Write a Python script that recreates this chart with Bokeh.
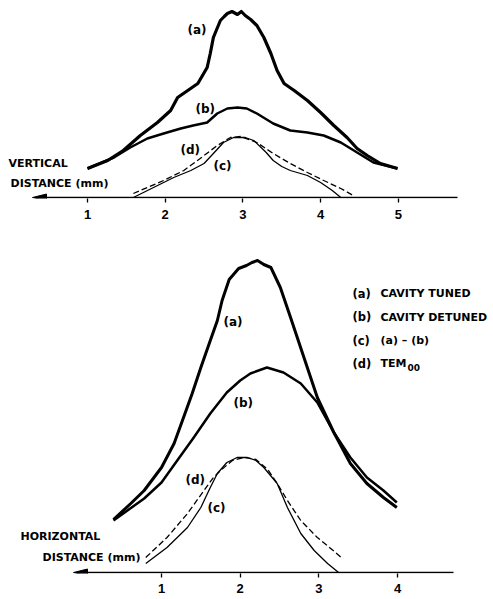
from bokeh.plotting import figure
from bokeh.layouts import column
from bokeh.models import FixedTicker
from bokeh.core.properties import value
from bokeh.embed import file_html
from bokeh.resources import INLINE

# ---------------- data (distance in mm, relative intensity) ----------------
# Vertical scan (top panel)
v_ticks = [1, 2, 3, 4, 5]
v_a_x = [1.00, 1.26, 1.46, 1.68, 1.90, 2.07, 2.16, 2.29, 2.42, 2.54, 2.58, 2.62, 2.71,
         2.76, 2.80, 2.86, 2.93, 2.98, 3.03, 3.10, 3.18, 3.27, 3.36, 3.44, 3.53, 3.66,
         3.83, 4.00, 4.17, 4.34, 4.47, 4.60, 4.77, 4.99]
v_a = [29, 37, 47, 62, 75, 87, 100, 107, 114, 130, 144, 160, 177,
       181, 184, 186, 183, 186, 182, 178, 172, 160, 144, 127, 114, 107,
       97, 85, 72, 60, 49, 42, 34, 29]
v_b_x = [1.00, 1.34, 1.55, 1.77, 1.98, 2.20, 2.36, 2.54, 2.67, 2.80, 2.93, 3.05, 3.18,
         3.39, 3.61, 3.83, 4.04, 4.26, 4.47, 4.68, 4.99]
v_b = [29, 40, 50, 59, 64, 69, 72, 75, 84, 89, 90, 89, 84,
       74, 67, 65, 62, 55, 45, 35, 29]
v_c_x = [1.59, 1.85, 2.11, 2.33, 2.50, 2.62, 2.75, 2.88, 3.03, 3.14, 3.30, 3.39, 3.50,
         3.61, 3.83, 4.00, 4.15, 4.26]
v_c = [0, 10, 20, 27, 34, 44, 55, 60, 60, 57, 45, 37, 31, 27, 22, 15, 7, 0]
v_d_x = [1.59, 1.98, 2.24, 2.45, 2.67, 2.84, 2.97, 3.18, 3.39, 3.61, 3.83, 4.04, 4.26, 4.42]
v_d = [4, 17, 27, 39, 52, 60, 61, 55, 44, 34, 25, 17, 9, 2]

# Horizontal scan (bottom panel)
h_ticks = [1, 2, 3, 4]
h_a_x = [0.39, 0.61, 0.78, 1.00, 1.16, 1.28, 1.39, 1.50, 1.62, 1.71, 1.77, 1.86, 1.98,
         2.08, 2.15, 2.22, 2.30, 2.39, 2.51, 2.64, 2.81, 2.98, 3.19, 3.40, 3.61, 3.82, 3.99]
h_a = [53, 69, 82, 105, 129, 155, 179, 205, 232, 252, 272, 293, 304,
       307, 310, 312, 308, 305, 285, 255, 215, 175, 140, 109, 89, 75, 65]
h_b_x = [0.39, 0.78, 1.00, 1.20, 1.41, 1.62, 1.83, 2.00, 2.13, 2.34, 2.55, 2.77, 2.98,
         3.19, 3.40, 3.61, 3.82, 3.99]
h_b = [52, 74, 90, 112, 135, 159, 180, 192, 199, 205, 200, 189, 170,
       140, 115, 95, 82, 70]
h_c_x = [0.80, 1.07, 1.33, 1.50, 1.62, 1.71, 1.83, 1.96, 2.09, 2.20, 2.30, 2.47, 2.60,
         2.77, 2.94, 3.11, 3.25]
h_c = [9, 25, 45, 65, 85, 99, 110, 115, 115, 112, 105, 89, 65, 39, 22, 9, 0]
h_d_x = [0.80, 1.07, 1.33, 1.54, 1.66, 1.75, 1.90, 2.05, 2.20, 2.35, 2.47, 2.60, 2.77,
         2.98, 3.15, 3.30]
h_d = [15, 35, 59, 82, 95, 102, 112, 115, 113, 103, 89, 72, 52, 35, 24, 14]

curve_names = ["(a)", "(b)", "(c)", "(d)"]
legend_items = ["CAVITY TUNED", "CAVITY DETUNED", "(a) \u2013 (b)", "TEM"]
legend_sub = "00"
v_title = ["VERTICAL", "DISTANCE (mm)"]
h_title = ["HORIZONTAL", "DISTANCE (mm)"]

# ---------------- layout helpers (picture pixels -> data) ----------------
W = 493
FONT = value("DejaVu Sans")


def mapper(x1_px, ppu, base_px):
    return (lambda px: 1 + (px - x1_px) / ppu), (lambda py: base_px - py)


tx, ty = mapper(87.0, 77.7, 197.0)
bx, by = mapper(161.0, 78.7, 572.0)


def make_fig(height, bottom, xr, yr, ticks):
    p = figure(width=W, height=height, x_range=xr, y_range=yr,
               output_backend="svg", toolbar_location=None,
               y_axis_location=None, min_border_left=0, min_border_right=0,
               min_border_top=0, min_border_bottom=bottom)
    p.outline_line_color = None
    p.grid.visible = False
    p.background_fill_color = "white"
    p.border_fill_color = "white"
    ax = p.xaxis[0]
    ax.ticker = FixedTicker(ticks=ticks)
    ax.axis_line_alpha = 0
    ax.major_tick_in = 0
    ax.major_tick_out = 4
    ax.major_tick_line_width = 1.3
    ax.minor_tick_line_color = None
    ax.major_label_text_font = "Liberation Sans"
    ax.major_label_text_font_style = "bold"
    ax.major_label_text_font_size = "13px"
    ax.major_label_text_color = "black"
    return p


def draw_axis_arrow(p, fx, tip_px, right_px):
    p.segment(x0=[fx(tip_px + 8)], y0=[0], x1=[fx(right_px)], y1=[0],
              line_color="black", line_width=1.6)
    p.patch([fx(tip_px), fx(tip_px + 14), fx(tip_px + 14)], [0, 3.5, -3.5],
            fill_color="black", line_color="black", line_width=1)


def texts(p, xs, ys, labels, size="12px"):
    p.text(x=xs, y=ys, text=labels, text_font=FONT, text_font_style="bold",
           text_font_size=size, text_baseline="middle", text_align="left",
           text_color="black")


# ---------------- top panel ----------------
p1 = make_fig(248, 50, (tx(0), tx(493)), (-1, 197), v_ticks)
p1.xaxis.major_label_standoff = 7
draw_axis_arrow(p1, tx, 32, 457)
p1.line(v_a_x, v_a, line_color="black", line_width=3.2, line_join="round")
p1.line(v_b_x, v_b, line_color="black", line_width=2.5, line_join="round")
p1.line(v_c_x, v_c, line_color="black", line_width=1.3, line_join="round")
p1.line(v_d_x, v_d, line_color="black", line_width=1.3, line_dash="6 3")
texts(p1, [tx(187), tx(195), tx(213), tx(180)], [ty(29), ty(108), ty(165), ty(149)],
      curve_names)
texts(p1, [tx(8), tx(10)], [ty(163), ty(183)], v_title, size="11px")

# ---------------- bottom panel ----------------
p2 = make_fig(351, 26, (bx(0), bx(493)), (-1, 324), h_ticks)
p2.xaxis.major_label_standoff = 6
draw_axis_arrow(p2, bx, 73, 453)
p2.line(h_a_x, h_a, line_color="black", line_width=3.0, line_join="round")
p2.line(h_b_x, h_b, line_color="black", line_width=2.5, line_join="round")
p2.line(h_c_x, h_c, line_color="black", line_width=1.3, line_join="round")
p2.line(h_d_x, h_d, line_color="black", line_width=1.3, line_dash="6 3")
texts(p2, [bx(223), bx(233), bx(207), bx(185)], [by(321), by(402), by(507), by(479)],
      curve_names)
texts(p2, [bx(20), bx(42)], [by(536), by(557)], h_title, size="11px")
leg_y = [293, 316.5, 340, 363]
texts(p2, [bx(352)] * 4, [by(v) for v in leg_y], curve_names, size="11.5px")
texts(p2, [bx(380)] * 4, [by(v) for v in leg_y], legend_items, size="11px")
texts(p2, [bx(407)], [by(367)], [legend_sub], size="9px")

layout = column(p1, p2)
open("out.html", "w").write(file_html(layout, INLINE))
